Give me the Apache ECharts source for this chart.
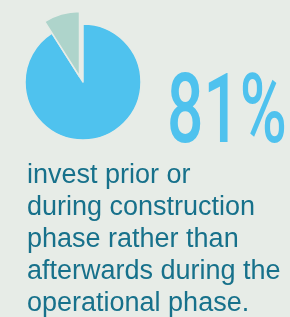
<!DOCTYPE html>
<html><head><meta charset="utf-8">
<script src="https://cdn.jsdelivr.net/npm/echarts@6/dist/echarts.min.js"></script>
<style>html,body{margin:0;padding:0;background:#e7ece7;}#c{width:290px;height:317px;}</style>
</head><body><div id="c"></div>
<script>
const categories = ['Prior or during construction', 'Afterwards'];
const values = [91, 9];
const colors = ['#4fc2ee', '#aed4cb'];
const headline = '81%';
const captionLines = ['invest prior or', 'during construction', 'phase rather than', 'afterwards during the', 'operational phase.'];

const bg = '#e7ece7';
const chart = echarts.init(document.getElementById('c'), null, {renderer: 'canvas'});
const dataFor = (visibleIdx) => categories.map((n, i) => ({
  name: n, value: values[i],
  itemStyle: {color: i === visibleIdx ? colors[i] : 'rgba(0,0,0,0)', borderColor: i === visibleIdx ? bg : 'rgba(0,0,0,0)', borderWidth: i === visibleIdx ? 1.5 : 0}
}));
chart.setOption({
  backgroundColor: bg,
  animation: false,
  series: [
    {type: 'pie', center: [83, 82], radius: [0, 58], startAngle: 90, clockwise: true,
     label: {show: false}, labelLine: {show: false}, silent: true, data: dataFor(0)},
    {type: 'pie', center: [79.5, 76.5], radius: [0, 65], startAngle: 90, clockwise: true,
     label: {show: false}, labelLine: {show: false}, silent: true, data: dataFor(1)}
  ],
  graphic: [
    {type: 'text', x: 167, y: 69, scaleX: 0.66, style: {text: headline, fill: colors[0], font: '500 97px Roboto'}},
    {type: 'text', x: 27, y: 160, style: {text: captionLines.join('\n'), fill: '#17718b', font: '27px "Liberation Sans"', lineHeight: 32}}
  ]
});
</script></body></html>
